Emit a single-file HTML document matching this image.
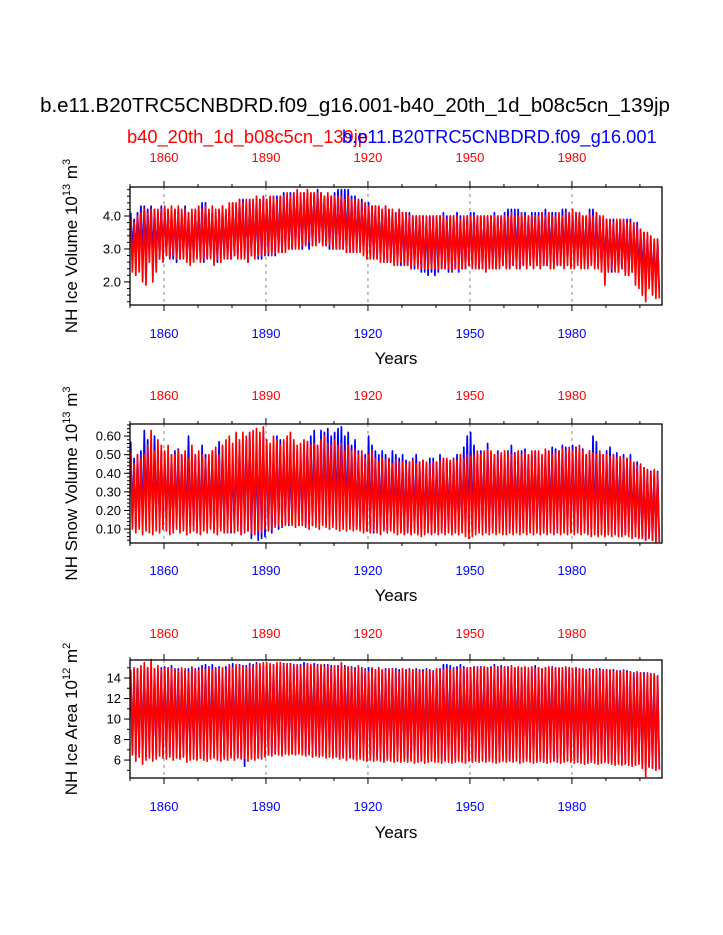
<!DOCTYPE html>
<html><head><meta charset="utf-8"><style>
body{margin:0;background:#fff;}
svg{display:block;font-family:"Liberation Sans",Arial,sans-serif;}
</style></head><body>
<svg id="chart" width="723" height="935">
<text x="355" y="112" text-anchor="middle" font-size="20.5">b.e11.B20TRC5CNBDRD.f09_g16.001-b40_20th_1d_b08c5cn_139jp</text>
<text x="127" y="143" font-size="18.3" fill="#ff0000">b40_20th_1d_b08c5cn_139jp</text>
<text x="342" y="143" font-size="18.3" fill="#0000ff">b.e11.B20TRC5CNBDRD.f09_g16.001</text>
</svg>
<script>
const years = [];
for (let y = 1850; y <= 2005; y++) years.push(y);

// Panel 1: NH Ice Volume (10^13 m^3)
const iceVolBlueMax = [4.1,3.9,4.1,4.3,4.3,4.2,4.3,4.2,4.1,4.3, 4.2,4.2,4.1,4.2,4.2,4.1,4.3,4.1,4.0,4.2, 4.2,4.4,4.4,4.1,4.1,4.0,4.2,4.3,4.1,4.2, 4.4,4.3,4.5,4.5,4.3,4.5,4.5,4.5,4.5,4.6, 4.5,4.5,4.6,4.6,4.6,4.7,4.6,4.7,4.7,4.6, 4.6,4.7,4.7,4.7,4.7,4.8,4.7,4.6,4.6,4.6, 4.7,4.8,4.8,4.8,4.8,4.6,4.6,4.5,4.5,4.4, 4.4,4.3,4.3,4.3,4.2,4.3,4.2,4.1,4.1,4.2, 4.1,4.1,4.1,4.0,4.0,4.0,4.0,3.9,4.0,4.0, 4.0,4.0,4.1,4.0,4.0,4.0,4.1,4.0,3.9,4.0, 4.1,4.1,4.0,4.0,4.0,4.0,4.0,4.1,4.0,4.0, 4.1,4.2,4.2,4.2,4.2,4.1,4.1,4.0,4.1,4.1, 4.1,4.1,4.2,4.1,4.1,4.1,4.0,4.2,4.2,4.1, 4.1,4.1,4.1,4.0,4.0,4.2,4.2,4.1,4.0,3.9, 3.9,3.9,3.9,3.8,3.9,3.9,3.9,3.9,3.7,3.8, 3.6,3.5,3.4,3.3,3.2,3.3];
const iceVolBlueMin = [2.9,2.8,2.9,2.8,2.9,2.8,2.7,2.8,2.7,2.8, 2.8,2.7,2.7,2.6,2.7,2.8,2.7,2.6,2.7,2.8, 2.7,2.6,2.7,2.8,2.7,2.6,2.7,2.8,2.7,2.7, 2.8,2.8,2.9,2.8,2.6,2.8,2.8,2.7,2.7,2.8, 2.8,2.9,2.8,2.9,2.9,3.0,3.0,3.0,3.1,3.1, 3.0,3.1,3.0,3.1,3.2,3.2,3.2,3.1,3.0,3.0, 3.0,3.0,3.0,2.9,2.9,2.9,3.0,3.0,2.9,2.8, 2.8,2.7,2.7,2.7,2.7,2.6,2.6,2.6,2.6,2.5, 2.5,2.5,2.4,2.4,2.5,2.3,2.3,2.2,2.3,2.2, 2.3,2.4,2.4,2.3,2.3,2.4,2.3,2.4,2.4,2.5, 2.5,2.5,2.4,2.4,2.4,2.5,2.4,2.4,2.5,2.5, 2.5,2.4,2.5,2.5,2.4,2.5,2.5,2.6,2.5,2.5, 2.5,2.5,2.5,2.6,2.5,2.5,2.5,2.6,2.6,2.6, 2.6,2.6,2.6,2.5,2.5,2.6,2.5,2.5,2.4,2.4, 2.4,2.3,2.4,2.3,2.4,2.3,2.2,2.3,2.3,2.2, 2.2,2.0,2.0,1.9,1.8,1.7];
const iceVolRedMax = [3.9,3.8,4.0,4.1,4.2,4.1,4.2,4.2,4.2,4.2, 4.3,4.2,4.3,4.2,4.3,4.2,4.2,4.1,4.2,4.2, 4.3,4.2,4.3,4.2,4.3,4.2,4.2,4.3,4.2,4.4, 4.4,4.4,4.5,4.4,4.5,4.5,4.5,4.6,4.5,4.6, 4.5,4.6,4.6,4.5,4.6,4.6,4.7,4.6,4.7,4.8, 4.7,4.7,4.8,4.7,4.7,4.7,4.7,4.6,4.7,4.6, 4.6,4.6,4.6,4.5,4.6,4.5,4.5,4.5,4.4,4.4, 4.3,4.3,4.3,4.3,4.2,4.3,4.2,4.2,4.1,4.2, 4.1,4.1,4.0,4.0,4.0,4.0,4.0,4.0,4.0,4.0, 4.0,4.0,4.0,3.9,4.0,4.0,4.0,3.9,4.0,4.0, 4.0,4.0,4.0,4.0,4.0,4.0,4.0,4.0,4.0,4.0, 4.0,4.0,4.1,4.0,4.0,4.1,4.0,4.0,4.0,4.0, 4.0,4.1,4.0,4.1,4.0,4.0,4.1,4.0,4.1,4.1, 4.2,4.1,4.1,4.0,4.0,4.1,4.0,4.1,4.0,4.0, 3.9,3.9,3.8,3.9,3.9,3.9,3.8,3.8,3.8,3.7, 3.6,3.5,3.5,3.4,3.3,3.3];
const iceVolRedMin = [2.3,2.2,2.3,2.0,1.9,2.6,2.0,2.3,2.7,2.6, 2.8,2.7,2.8,2.7,2.7,2.7,2.6,2.5,2.6,2.7, 2.6,2.7,2.7,2.7,2.5,2.7,2.6,2.7,2.7,2.7, 2.8,2.7,2.7,2.7,2.6,2.8,2.7,2.8,2.8,2.8, 2.9,2.8,2.9,2.9,2.9,2.9,3.0,3.0,3.0,3.0, 3.1,3.1,3.2,3.1,3.1,3.2,3.1,3.1,3.1,3.0, 3.0,3.0,3.0,2.9,2.9,2.9,2.9,2.9,2.8,2.7, 2.7,2.7,2.7,2.6,2.6,2.6,2.6,2.5,2.5,2.6, 2.5,2.5,2.4,2.5,2.4,2.4,2.4,2.4,2.4,2.4, 2.4,2.4,2.4,2.4,2.3,2.4,2.4,2.4,2.4,2.5, 2.4,2.4,2.4,2.4,2.3,2.4,2.4,2.4,2.4,2.5, 2.4,2.4,2.5,2.4,2.4,2.5,2.4,2.5,2.4,2.5, 2.4,2.5,2.5,2.4,2.4,2.5,2.5,2.4,2.5,2.4, 2.4,2.5,2.4,2.4,2.4,2.5,2.4,2.4,2.3,1.9, 2.3,2.4,2.3,2.3,2.4,2.2,2.2,2.3,1.9,1.8, 1.6,1.4,1.8,1.6,1.5,1.5];

// Panel 2: NH Snow Volume (10^13 m^3)
const snowBlueMax = [.57,.48,.50,.52,.63,.58,.52,.60,.48,.52, .50,.48,.50,.52,.53,.50,.50,.60,.48,.50, .48,.55,.50,.47,.52,.50,.57,.54,.50,.53, .48,.52,.56,.57,.58,.62,.50,.55,.58,.62, .55,.52,.50,.60,.58,.52,.55,.50,.55,.52, .50,.55,.57,.60,.63,.55,.63,.62,.64,.60, .62,.64,.65,.60,.62,.55,.58,.52,.50,.50, .60,.55,.52,.50,.52,.50,.48,.52,.50,.48, .50,.47,.46,.48,.50,.46,.47,.45,.48,.48, .46,.50,.48,.47,.46,.48,.50,.48,.54,.60, .62,.55,.50,.52,.48,.56,.50,.50,.52,.50, .48,.52,.55,.51,.50,.52,.53,.50,.50,.52, .50,.48,.52,.52,.54,.53,.52,.55,.54,.52, .55,.54,.53,.53,.50,.52,.60,.57,.50,.50, .52,.54,.50,.51,.48,.50,.48,.50,.45,.46, .44,.43,.42,.41,.40,.41];
const snowBlueMin = [.12,.10,.14,.12,.15,.18,.12,.16,.15,.13, .14,.12,.10,.13,.12,.11,.12,.11,.12,.10, .11,.12,.13,.11,.10,.12,.11,.10,.12,.08, .10,.12,.07,.10,.09,.05,.09,.04,.05,.06, .10,.08,.12,.10,.11,.13,.12,.13,.15,.12, .14,.11,.13,.12,.14,.14,.15,.13,.16,.14, .15,.14,.14,.12,.13,.11,.10,.11,.10,.09, .10,.08,.10,.11,.10,.09,.10,.10,.11,.09, .08,.09,.08,.10,.09,.09,.10,.09,.08,.09, .09,.10,.09,.10,.09,.10,.09,.10,.09,.08, .09,.10,.10,.11,.10,.09,.10,.11,.10,.10, .11,.10,.09,.10,.10,.10,.09,.10,.11,.10, .09,.10,.10,.11,.10,.10,.09,.10,.10,.09, .10,.09,.10,.09,.09,.10,.09,.08,.09,.08, .09,.10,.08,.09,.08,.07,.08,.09,.06,.06, .06,.04,.05,.04,.04,.03];
const snowRedMax = [.52,.45,.50,.48,.50,.55,.63,.52,.58,.55, .52,.55,.50,.50,.52,.50,.52,.48,.55,.50, .52,.50,.48,.50,.52,.54,.50,.55,.58,.60, .56,.62,.58,.62,.60,.62,.63,.64,.62,.65, .58,.56,.60,.58,.55,.58,.60,.62,.58,.55, .56,.58,.57,.55,.56,.55,.58,.60,.56,.55, .58,.55,.56,.52,.55,.52,.53,.50,.52,.48, .50,.52,.48,.46,.48,.47,.48,.45,.47,.46, .46,.45,.46,.47,.45,.46,.47,.46,.45,.46, .46,.47,.48,.48,.47,.48,.47,.50,.48,.50, .49,.50,.52,.50,.52,.53,.52,.50,.50,.51, .52,.51,.50,.50,.52,.50,.51,.50,.52,.52, .52,.50,.53,.52,.50,.51,.52,.53,.52,.54, .52,.53,.55,.52,.50,.52,.51,.50,.52,.50, .50,.49,.50,.48,.49,.48,.48,.47,.46,.44, .45,.43,.42,.40,.42,.40];
const snowRedMin = [.10,.08,.10,.07,.09,.08,.07,.09,.08,.10, .09,.07,.08,.10,.08,.09,.07,.08,.09,.08, .07,.09,.08,.10,.08,.07,.09,.08,.08,.09, .08,.09,.07,.08,.09,.08,.07,.09,.08,.10, .09,.10,.11,.12,.11,.12,.13,.12,.11,.12, .12,.11,.10,.12,.11,.10,.12,.11,.10,.11, .10,.09,.10,.09,.10,.09,.10,.09,.08,.09, .08,.09,.08,.07,.09,.08,.09,.08,.07,.08, .07,.08,.07,.08,.07,.06,.07,.08,.07,.08, .07,.08,.07,.08,.07,.08,.07,.08,.06,.05, .06,.07,.08,.07,.08,.07,.08,.07,.08,.07, .07,.08,.07,.08,.07,.08,.07,.08,.07,.08, .07,.08,.07,.08,.07,.08,.07,.08,.07,.08, .07,.08,.07,.08,.07,.06,.07,.06,.07,.06, .07,.06,.07,.06,.06,.07,.06,.05,.06,.05, .05,.04,.05,.04,.03,.03];

// Panel 3: NH Ice Area (10^12 m^2)
const areaBlueMax = [14.6,14.8,14.9,14.8,14.9,15.0,14.8,14.9,14.8,15.0, 15.1,15.0,15.2,14.9,14.9,14.8,14.7,14.9,15.0,14.9, 15.0,15.2,15.3,15.1,15.3,15.0,15.1,14.9,15.1,15.2, 15.4,15.0,15.3,15.2,15.2,15.4,15.3,15.5,15.2,15.3, 15.3,15.1,15.3,15.2,15.2,15.4,15.2,15.4,15.3,15.2, 15.3,15.5,15.3,15.2,15.4,15.3,15.2,15.3,15.3,15.2, 15.1,15.2,15.2,15.2,15.1,15.1,15.0,15.0,15.0,14.9, 15.0,14.9,14.8,15.0,14.8,14.9,14.8,14.9,14.9,14.8, 14.9,14.8,14.9,14.8,14.9,14.8,14.8,14.9,14.8,14.7, 14.8,14.9,15.3,15.3,15.2,15.0,15.1,15.3,15.1,14.9, 15.0,15.1,15.0,15.1,15.0,15.0,15.1,15.3,15.1,15.2, 15.0,15.1,15.1,15.0,15.0,15.0,14.9,14.8,15.0,15.2, 15.0,14.9,15.0,15.0,15.1,15.0,14.9,15.0,15.0,15.0, 14.9,15.0,14.9,14.9,14.8,14.9,14.8,14.7,14.9,14.8, 14.8,14.7,14.8,14.7,14.7,14.6,14.7,14.6,14.5,14.6, 14.5,14.5,14.4,14.4,14.3,14.2];
const areaBlueMin = [6.8,6.5,6.7,6.6,6.4,6.7,6.5,6.6,6.7,6.6, 6.4,6.6,6.5,6.7,6.3,6.5,6.6,6.4,6.5,6.3, 6.2,6.4,6.5,6.3,6.5,6.6,6.5,6.3,6.4,6.5, 6.5,6.3,6.2,5.4,6.5,6.3,6.6,6.2,6.3,6.5, 6.5,6.7,6.6,6.8,6.6,6.7,6.8,6.6,6.7,6.8, 6.7,6.6,6.7,6.5,6.6,6.5,6.6,6.7,6.6,6.5, 6.4,6.3,6.5,6.4,6.3,6.2,6.4,6.3,6.4,6.2, 6.4,6.2,6.3,6.1,6.0,6.2,6.1,6.2,6.0,6.1, 6.2,6.0,6.1,6.0,6.1,6.0,6.0,6.1,6.2,6.0, 6.1,6.0,6.0,6.1,6.0,6.0,6.1,6.0,5.9,6.1, 6.0,6.2,6.2,6.1,6.1,6.0,6.2,6.1,6.0,6.1, 6.1,6.0,6.1,6.2,6.1,6.1,6.0,6.2,6.1,6.0, 6.1,6.0,6.1,6.1,6.0,6.1,6.2,6.1,6.0,6.1, 6.0,6.1,6.0,6.1,5.9,6.0,6.0,5.9,5.9,6.0, 5.9,5.8,5.9,5.8,5.8,5.7,5.8,5.7,5.7,5.8, 5.6,5.5,5.4,5.3,5.2,5.1];
const areaRedMax = [14.8,15.0,14.8,15.2,15.5,15.0,15.8,14.9,15.2,14.8, 14.9,14.9,15.0,14.8,14.7,15.0,14.9,14.6,15.1,14.8, 14.7,14.9,14.8,15.0,14.8,14.9,14.9,15.0,14.8,15.3, 15.0,15.3,15.2,15.1,15.0,15.2,15.1,15.3,15.4,15.5, 15.5,15.4,15.3,15.5,15.5,15.3,15.4,15.3,15.2,15.3, 15.2,15.1,15.4,15.3,15.1,15.2,15.3,15.1,15.2,15.0, 15.2,15.1,15.5,15.0,15.1,15.0,14.8,15.2,14.9,14.8, 14.6,15.0,14.8,14.9,14.8,14.7,14.9,14.8,14.7,14.6, 14.9,14.7,14.8,14.8,14.7,14.8,14.6,14.8,14.7,14.6, 14.9,14.8,14.8,14.9,14.8,14.9,14.8,15.0,14.9,15.0, 14.9,15.0,15.1,15.0,15.1,15.0,15.0,15.1,15.0,15.0, 15.1,15.0,15.2,15.0,15.1,15.0,15.1,15.0,15.1,14.9, 15.0,14.9,15.0,15.1,15.0,14.9,15.0,15.0,15.1,14.9, 14.9,15.0,14.8,14.9,14.8,14.7,14.8,14.9,14.7,14.8, 14.7,14.8,14.6,14.7,14.6,14.8,14.5,14.6,14.4,14.6, 14.5,14.3,14.5,14.3,14.4,14.2];
const areaRedMin = [6.5,5.9,6.3,5.6,6.0,6.2,5.9,6.1,6.4,6.2, 6.1,6.3,6.0,6.2,6.1,6.3,5.8,6.0,6.1,6.0, 6.2,6.0,5.9,6.1,6.2,6.0,5.9,6.1,6.0,6.2, 6.0,6.2,6.1,6.2,5.9,6.1,6.0,6.2,6.1,6.3, 6.5,6.4,6.6,6.5,6.4,6.6,6.5,6.6,6.5,6.6, 6.5,6.4,6.5,6.3,6.4,6.3,6.4,6.2,6.3,6.2, 6.3,6.1,6.2,6.0,6.2,6.1,6.0,6.1,6.0,5.9, 6.0,5.9,6.0,5.9,5.8,6.0,5.9,5.8,5.9,5.8, 5.9,5.8,5.9,5.7,5.8,5.9,5.7,5.8,5.9,5.8, 5.8,5.7,5.9,5.8,5.7,5.8,5.9,5.8,5.7,5.9, 5.8,5.9,5.8,5.9,5.8,5.9,5.8,5.7,5.8,5.9, 5.8,5.9,5.8,5.9,5.7,5.8,5.9,5.8,5.7,5.8, 5.9,5.8,5.7,5.8,5.9,5.8,5.7,5.8,5.9,5.8, 5.7,5.8,5.7,5.6,5.7,5.8,5.7,5.6,5.7,5.8, 5.7,5.6,5.5,5.6,5.5,5.6,5.5,5.4,5.5,5.6, 5.2,4.4,5.3,5.2,5.0,5.1];

const xTickYears = [1860,1890,1920,1950,1980];

const NS = 'http://www.w3.org/2000/svg';
const svg = document.getElementById('chart');
const X0 = 130, X1 = 662, YR0 = 1850, YR1 = 2006.5;
function xScale(t){ return X0 + (t - YR0) * (X1 - X0) / (YR1 - YR0); }
function mk(tag, attrs, parent){
  const e = document.createElementNS(NS, tag);
  for (const k in attrs) e.setAttribute(k, attrs[k]);
  (parent || svg).appendChild(e);
  return e;
}

const panels = [
  {name:'ice-volume', top:187, bot:305, vmin:1.3, vmax:4.88, major:[2.0,3.0,4.0], fmt:v=>v.toFixed(1), minorStep:0.2, mstart:1.4,
   bMax:iceVolBlueMax, bMin:iceVolBlueMin, rMax:iceVolRedMax, rMin:iceVolRedMin, ytitle:'NH Ice Volume 10', sup:'13', unit:' m', usup:'3', topLbl:162, botLbl:338, yrs:364},
  {name:'snow-volume', top:424, bot:543, vmin:0.025, vmax:0.665, major:[0.1,0.2,0.3,0.4,0.5,0.6], fmt:v=>v.toFixed(2), minorStep:0.02, mstart:0.04,
   bMax:snowBlueMax, bMin:snowBlueMin, rMax:snowRedMax, rMin:snowRedMin, ytitle:'NH Snow Volume 10', sup:'13', unit:' m', usup:'3', topLbl:400, botLbl:575, yrs:601},
  {name:'ice-area', top:660, bot:778, vmin:4.25, vmax:15.76, major:[6,8,10,12,14], fmt:v=>String(v), minorStep:1, mstart:5,
   bMax:areaBlueMax, bMin:areaBlueMin, rMax:areaRedMax, rMin:areaRedMin, ytitle:'NH Ice Area 10', sup:'12', unit:' m', usup:'2', topLbl:638, botLbl:811, yrs:838}
];

panels.forEach(p => {
  const g = mk('g', {});
  
  
  const yS = v => p.bot - (v - p.vmin) * (p.bot - p.top) / (p.vmax - p.vmin);
  xTickYears.forEach(yr => {
    const l = mk('line', {x1:xScale(yr), x2:xScale(yr), y1:p.top, y2:p.bot, stroke:'#888', 'stroke-width':1, 'stroke-dasharray':'3,4'}, g);
    
    
  });
  function series(maxA, minA, color, nm){
    let d = '';
    years.forEach((yr, i) => {
      d += (i ? 'L' : 'M') + xScale(yr + 0.2).toFixed(1) + ',' + yS(maxA[i]).toFixed(1);
      d += 'L' + xScale(yr + 0.7).toFixed(1) + ',' + yS(minA[i]).toFixed(1);
    });
    const path = mk('path', {d:d, fill:'none', stroke:color, 'stroke-width':1.7, 'stroke-linejoin':'round'}, g);
    
    
  }
  series(p.bMax, p.bMin, '#0000ff', p.name + '-blue-series');
  series(p.rMax, p.rMin, '#ff0000', p.name + '-red-series');
  const fr = mk('rect', {x:X0, y:p.top, width:X1 - X0, height:p.bot - p.top, fill:'none', stroke:'#000', 'stroke-width':1.3}, g);
  
  
  for (let yr = 1850; yr <= 2000; yr += 10) {
    const maj = xTickYears.includes(yr);
    const len = maj ? 6 : 3;
    mk('line', {x1:xScale(yr), x2:xScale(yr), y1:p.top, y2:p.top - len, stroke:'#000', 'stroke-width':1}, g);
    mk('line', {x1:xScale(yr), x2:xScale(yr), y1:p.bot, y2:p.bot + len, stroke:'#000', 'stroke-width':1}, g);
  }
  xTickYears.forEach(yr => {
    const t1 = mk('text', {x:xScale(yr), y:p.topLbl, 'text-anchor':'middle', 'font-size':13, fill:'#ff0000'}, g);
    t1.textContent = yr;
    
    
    const t2 = mk('text', {x:xScale(yr), y:p.botLbl, 'text-anchor':'middle', 'font-size':13, fill:'#0000ff'}, g);
    t2.textContent = yr;
    
    
  });
  const xt = mk('text', {x:396, y:p.yrs, 'text-anchor':'middle', 'font-size':17}, g);
  xt.textContent = 'Years';
  
  
  for (let v = p.mstart; v < p.vmax; v += p.minorStep) {
    const y = yS(v);
    if (y < p.top || y > p.bot) continue;
    mk('line', {x1:X0, x2:X0 - 3, y1:y, y2:y, stroke:'#000', 'stroke-width':1}, g);
  }
  p.major.forEach(v => {
    const y = yS(v);
    mk('line', {x1:X0, x2:X0 - 6, y1:y, y2:y, stroke:'#000', 'stroke-width':1}, g);
    const t = mk('text', {x:X0 - 9, y:y + 4.5, 'text-anchor':'end', 'font-size':13}, g);
    t.textContent = p.fmt(v);
    
    
  });
  const cy = (p.top + p.bot) / 2;
  const yt = mk('text', {x:0, y:0, 'text-anchor':'middle', 'font-size':17, transform:'translate(77,' + cy + ') rotate(-90)'}, g);
  
  
  const s1 = mk('tspan', {}, yt); s1.textContent = p.ytitle;
  const s2 = mk('tspan', {dy:-7, 'font-size':11}, yt); s2.textContent = p.sup;
  const s3 = mk('tspan', {dy:7}, yt); s3.textContent = p.unit;
  const s4 = mk('tspan', {dy:-7, 'font-size':11}, yt); s4.textContent = p.usup;
});
</script>
</body></html>
